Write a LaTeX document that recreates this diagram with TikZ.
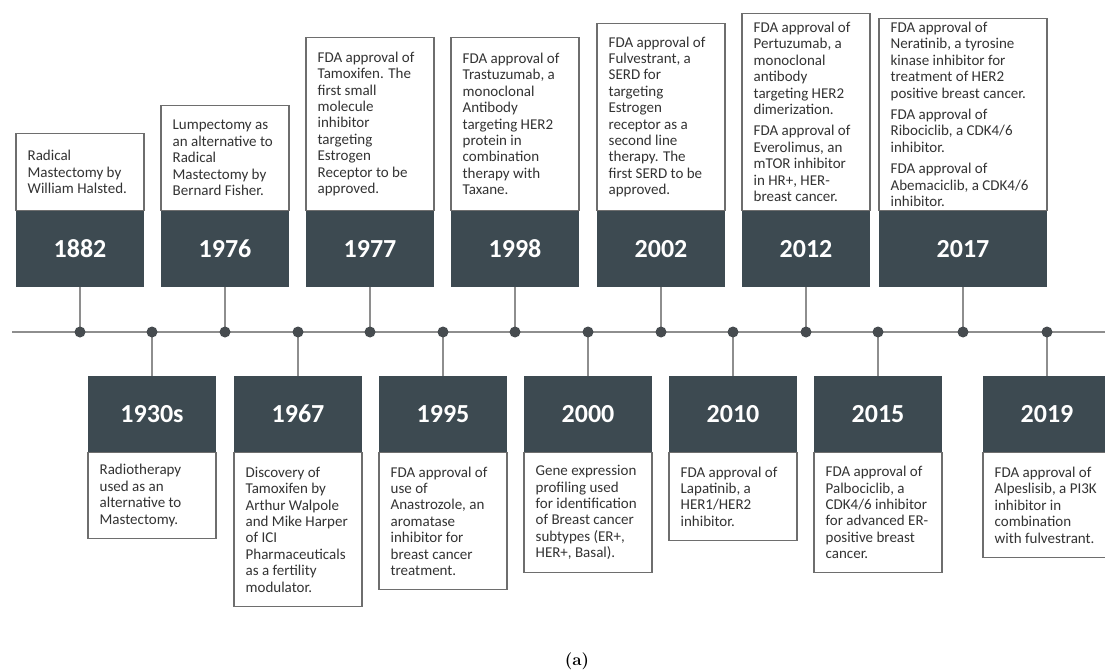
\documentclass[tikz,border=0pt]{standalone}
\usepackage{fontspec}
\newfontfamily\carlito{Carlito}
\usetikzlibrary{backgrounds}
\definecolor{darkbox}{HTML}{3D4A51}
\definecolor{linegray}{HTML}{8E8E8E}
\definecolor{dotcol}{HTML}{464B4F}
\definecolor{bordergray}{HTML}{6E6E6E}
\definecolor{txtcol}{HTML}{333333}
\tikzset{
  yearbox/.style={rectangle, fill=darkbox, text=white, inner sep=0pt, minimum height=76pt,
    text height=17pt, text depth=0pt,
    font=\carlito\bfseries\fontsize{26}{30}\selectfont},
  descbox/.style={rectangle, draw=bordergray, line width=1.1pt, fill=white, inner sep=0pt},
  desctext/.style={anchor=west, align=left, inner sep=0pt, text=txtcol,
    font=\carlito\fontsize{15}{16.4}\selectfont},
  tldot/.style={circle, fill=dotcol, minimum size=11pt, inner sep=0pt},
  conn/.style={draw=linegray, line width=1.3pt},
}
\newcommand\topevent[6]{%
  \node[yearbox, minimum width=#4] (y#1) at (#2,249) {#5};
  \node[descbox, minimum width=#4, minimum height={211-#3}, anchor=south] (d#1) at (#2,211) {};
  \node[desctext] (t#1) at ([xshift=12pt]d#1.west) {#6};
  \node[tldot] (p#1) at (#2,332) {};
}
\newcommand\botevent[6]{%
  \node[yearbox, minimum width=#4] (y#1) at (#2,414) {#5};
  \node[descbox, minimum width=#4, minimum height={#3-452}, anchor=north] (d#1) at (#2,452) {};
  \node[desctext] (t#1) at ([xshift=12pt]d#1.west) {#6};
  \node[tldot] (p#1) at (#2,332) {};
}
\begin{document}
\begin{tikzpicture}[x=1pt,y=-1pt]
\useasboundingbox (0,0) rectangle (1105,671);
\coordinate (tlstart) at (12,332);
\coordinate (tlend) at (1105,332);

\topevent{a}{80}{134}{128}{1882}{Radical\\Mastectomy by\\William Halsted.}
\topevent{b}{225}{106}{128}{1976}{Lumpectomy as\\an alternative to\\Radical\\Mastectomy by\\Bernard Fisher.}
\topevent{c}{370}{38}{128}{1977}{FDA approval of\\Tamoxifen. The\\first small\\molecule\\inhibitor\\targeting\\Estrogen\\Receptor to be\\approved.}
\topevent{d}{515}{38}{128}{1998}{FDA approval of\\Trastuzumab, a\\monoclonal\\Antibody\\targeting HER2\\protein in\\combination\\therapy with\\Taxane.}
\topevent{e}{661}{24}{128}{2002}{FDA approval of\\Fulvestrant, a\\SERD for\\targeting\\Estrogen\\receptor as a\\second line\\therapy. The\\first SERD to be\\approved.}
\topevent{f}{806}{14}{128}{2012}{FDA approval of\\Pertuzumab, a\\monoclonal\\antibody\\targeting HER2\\dimerization.\\[5pt]FDA approval of\\Everolimus, an\\mTOR inhibitor\\in HR+, HER-\\breast cancer.}
\topevent{g}{963}{19}{168}{2017}{FDA approval of\\Neratinib, a tyrosine\\kinase inhibitor for\\treatment of HER2\\positive breast cancer.\\[5pt]FDA approval of\\Ribociclib, a CDK4/6\\inhibitor.\\[5pt]FDA approval of\\Abemaciclib, a CDK4/6\\inhibitor.}

\botevent{h}{152}{538}{128}{1930s}{Radiotherapy\\used as an\\alternative to\\Mastectomy.}
\botevent{i}{298}{606}{128}{1967}{Discovery of\\Tamoxifen by\\Arthur Walpole\\and Mike Harper\\of ICI\\Pharmaceuticals\\as a fertility\\modulator.}
\botevent{j}{443}{589}{128}{1995}{FDA approval of\\use of\\Anastrozole, an\\aromatase\\inhibitor for\\breast cancer\\treatment.}
\botevent{k}{588}{572}{128}{2000}{Gene expression\\profiling used\\for identification\\of Breast cancer\\subtypes (ER+,\\HER+, Basal).}
\botevent{l}{733}{540}{128}{2010}{FDA approval of\\Lapatinib, a\\HER1/HER2\\inhibitor.}
\botevent{m}{878}{572}{128}{2015}{FDA approval of\\Palbociclib, a\\CDK4/6 inhibitor\\for advanced ER-\\positive breast\\cancer.}
\botevent{n}{1047}{557}{128}{2019}{FDA approval of\\Alpeslisib, a PI3K\\inhibitor in\\combination\\with fulvestrant.}

\node[font=\bfseries\fontsize{17}{20}\selectfont] (caption) at (577,661) {(a)};

\begin{scope}[on background layer]
  \fill[white] (0,0) rectangle (1105,671);
  \draw[conn] (tlstart) -- (tlend);
  \foreach \n in {a,b,c,d,e,f,g}{\draw[conn] (p\n.center) -- (y\n.south);}
  \foreach \n in {h,i,j,k,l,m,n}{\draw[conn] (p\n.center) -- (y\n.north);}
\end{scope}
\end{tikzpicture}
\end{document}
